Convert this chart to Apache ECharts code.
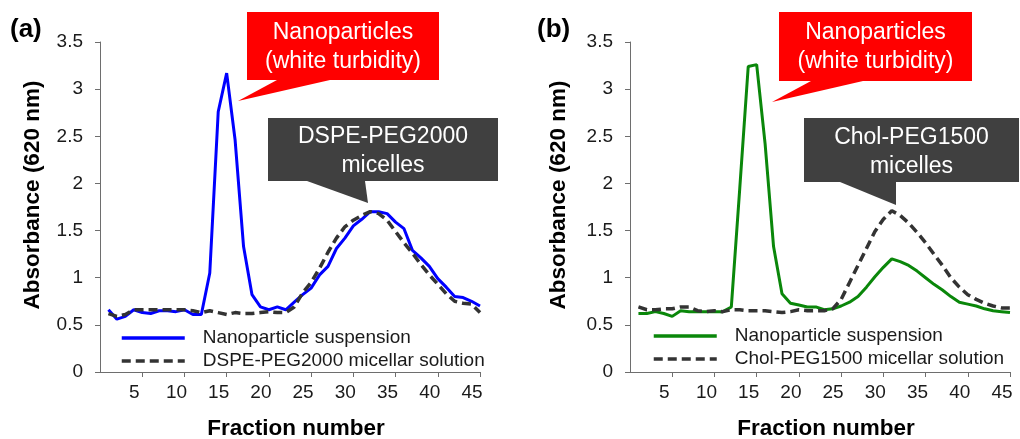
<!DOCTYPE html>
<html>
<head>
<meta charset="utf-8">
<script src="https://cdn.jsdelivr.net/npm/echarts@6/dist/echarts.min.js"></script>
<style>html,body{margin:0;padding:0;background:#fff;}#c{width:1020px;height:439px;}</style>
</head>
<body>
<div id="c"></div>
<script>
// ---- data ----
const fractions = [1,2,3,4,5,6,7,8,9,10,11,12,13,14,15,16,17,18,19,20,21,22,23,24,25,26,27,28,29,30,31,32,33,34,35,36,37,38,39,40,41,42,43,44,45];
const nanoA = [0.66,0.56,0.59,0.66,0.63,0.62,0.65,0.65,0.64,0.66,
               0.61,0.61,1.05,2.76,3.17,2.46,1.33,0.82,0.69,0.66,
               0.69,0.66,0.74,0.82,0.89,1.03,1.12,1.31,1.42,1.55,
               1.62,1.70,1.70,1.68,1.59,1.52,1.29,1.21,1.12,0.99,
               0.90,0.80,0.79,0.75,0.70];
const micA  = [0.62,0.59,0.61,0.66,0.66,0.66,0.66,0.66,0.66,0.66,
               0.65,0.63,0.65,0.63,0.61,0.63,0.62,0.62,0.63,0.64,
               0.63,0.63,0.69,0.84,0.95,1.10,1.27,1.42,1.54,1.61,
               1.66,1.70,1.68,1.61,1.49,1.37,1.26,1.14,1.03,0.93,
               0.83,0.75,0.73,0.72,0.63];
const nanoB = [0.62,0.62,0.64,0.62,0.59,0.65,0.64,0.64,0.64,0.64,
               0.64,0.69,1.95,3.24,3.26,2.42,1.33,0.83,0.73,0.71,
               0.69,0.69,0.66,0.67,0.70,0.74,0.80,0.90,1.01,1.11,
               1.20,1.17,1.13,1.07,1.00,0.93,0.87,0.80,0.74,0.72,
               0.70,0.67,0.65,0.64,0.63];
const micB  = [0.69,0.66,0.66,0.67,0.67,0.69,0.69,0.65,0.64,0.65,
               0.64,0.66,0.66,0.65,0.65,0.65,0.64,0.63,0.64,0.66,
               0.65,0.65,0.65,0.67,0.77,0.95,1.13,1.31,1.49,1.62,
               1.71,1.66,1.58,1.48,1.37,1.25,1.13,1.00,0.90,0.82,
               0.77,0.73,0.70,0.68,0.68];
const legendLabels = {
  nanoA: 'Nanoparticle suspension',
  micA: 'DSPE-PEG2000 micellar solution',
  nanoB: 'Nanoparticle suspension',
  micB: 'Chol-PEG1500 micellar solution'
};
const panelLabels = ['(a)', '(b)'];
const xTitle = 'Fraction number';
const yTitle = 'Absorbance (620 nm)';
const calloutRed = 'Nanoparticles\n(white turbidity)';
const calloutA = 'DSPE-PEG2000\nmicelles';
const calloutB = 'Chol-PEG1500\nmicelles';

// ---- chart ----
const FONT = "'Liberation Sans', Arial, sans-serif";
const AXIS_COLOR = '#6e6e6e';
const TEXT_COLOR = '#1a1a1a';
const pairs = vals => fractions.map((f, i) => [f, vals[i]]);

function xAxisCfg(idx) {
  return {
    type: 'value', gridIndex: idx, min: 0, max: 45, interval: 5,
    name: xTitle, nameLocation: 'middle', nameGap: 45,
    nameTextStyle: { fontFamily: FONT, fontSize: 22.5, fontWeight: 'bold', color: '#000', padding: [0, 0, 0, 12] },
    axisLine: { show: true, onZero: false, lineStyle: { color: AXIS_COLOR, width: 1 } },
    axisTick: { show: true, length: 5, inside: false, lineStyle: { color: AXIS_COLOR } },
    axisLabel: { showMinLabel: false, margin: 11, fontFamily: FONT, fontSize: 19, color: TEXT_COLOR, padding: [0, 16, 0, 0] },
    splitLine: { show: false }
  };
}
function yAxisCfg(idx, gap) {
  return {
    type: 'value', gridIndex: idx, min: 0, max: 3.5, interval: 0.5,
    name: yTitle, nameLocation: 'middle', nameGap: gap, nameRotate: 90,
    nameTextStyle: { fontFamily: FONT, fontSize: 22.5, fontWeight: 'bold', color: '#000', padding: [0, 0, 0, 24] },
    axisLine: { show: true, lineStyle: { color: AXIS_COLOR, width: 1 } },
    axisTick: { show: true, length: 5, inside: false, lineStyle: { color: AXIS_COLOR } },
    axisLabel: { margin: 17, fontFamily: FONT, fontSize: 19, color: TEXT_COLOR },
    splitLine: { show: false }
  };
}
function lineSeries(name, vals, idx, color, dashed) {
  return {
    name: name, type: 'line', xAxisIndex: idx, yAxisIndex: idx,
    data: pairs(vals), symbol: 'none', showSymbol: false, smooth: false,
    lineStyle: dashed ? { color: color, width: 3.5, type: [9, 5] } : { color: color, width: 3 },
    itemStyle: { color: color },
    z: dashed ? 3 : 2, animation: false
  };
}
function legendCfg(left, top, names) {
  return {
    orient: 'vertical', left: left, top: top, data: names,
    itemWidth: 63, itemHeight: 14, itemGap: 1,
    lineStyle: { width: 3.5 },
    itemStyle: { opacity: 0, color: 'transparent', borderWidth: 0 },
    formatter: n => legendLabels[n],
    textStyle: { fontFamily: FONT, fontSize: 19, color: TEXT_COLOR, lineHeight: 22, padding: [0, 0, 0, 13] },
    selectedMode: false
  };
}
function callout(boxX, boxY, boxW, boxH, pts, fill, text, textY) {
  return [
    { type: 'rect', z: 100, shape: { x: boxX, y: boxY, width: boxW, height: boxH }, style: { fill: fill } },
    { type: 'polygon', z: 100, shape: { points: pts }, style: { fill: fill } },
    { type: 'text', z: 101, x: boxX + boxW / 2, y: textY,
      style: { text: text, fill: '#fff', fontFamily: FONT, fontSize: 23, lineHeight: 29, align: 'center', verticalAlign: 'middle' } }
  ];
}

const chart = echarts.init(document.getElementById('c'), null, { renderer: 'canvas' });
chart.setOption({
  animation: false,
  backgroundColor: '#fff',
  grid: [
    { left: 100, top: 42, width: 380, height: 330, containLabel: false, outerBoundsMode: 'none' },
    { left: 630, top: 42, width: 380, height: 330, containLabel: false, outerBoundsMode: 'none' }
  ],
  xAxis: [xAxisCfg(0), xAxisCfg(1)],
  yAxis: [yAxisCfg(0, 56), yAxisCfg(1, 60)],
  legend: [
    legendCfg(115, 322, ['nanoA', 'micA']),
    legendCfg(647, 320, ['nanoB', 'micB'])
  ],
  series: [
    lineSeries('nanoA', nanoA, 0, '#0000ff', false),
    lineSeries('micA', micA, 0, '#333333', true),
    lineSeries('nanoB', nanoB, 1, '#0a870a', false),
    lineSeries('micB', micB, 1, '#333333', true)
  ],
  graphic: [
    { type: 'text', x: 10, y: 17, style: { text: panelLabels[0], fontFamily: FONT, fontSize: 26, fontWeight: 'bold', fill: '#000' } },
    { type: 'text', x: 537, y: 17, style: { text: panelLabels[1], fontFamily: FONT, fontSize: 26, fontWeight: 'bold', fill: '#000' } },
    ...callout(247, 12, 192, 68, [[277, 80], [330, 80], [238, 101]], '#ff0000', calloutRed, 47.5),
    ...callout(268, 118, 230, 63, [[307, 181], [365, 181], [368, 203]], '#404040', calloutA, 151),
    ...callout(779, 12, 193, 69, [[811, 81], [863, 81], [772, 102]], '#ff0000', calloutRed, 47.5),
    ...callout(804, 118, 215, 64, [[840, 182], [896, 182], [896, 205]], '#404040', calloutB, 152.5)
  ]
});
</script>
</body>
</html>
